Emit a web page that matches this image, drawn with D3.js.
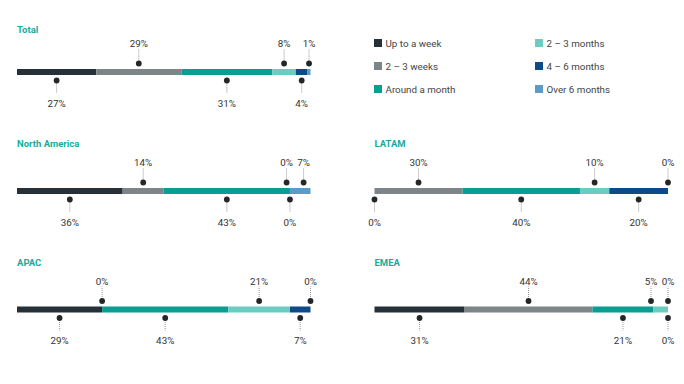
<!DOCTYPE html>
<html>
<head>
<meta charset="utf-8">
<script src="https://cdn.jsdelivr.net/npm/d3@7"></script>
<style>
  body { margin: 0; background: #fff; }
  svg { font-family: Roboto, "Noto Sans", sans-serif; }
</style>
</head>
<body>
<svg id="chart" width="684" height="384"></svg>
<script>
const categories = ["Up to a week", "2 – 3 weeks", "Around a month", "2 – 3 months", "4 – 6 months", "Over 6 months"];
const colors = ["#263038", "#7e8588", "#0a9e92", "#6bcdc2", "#0c4a8a", "#5c9bc8"];

const regions = ["Total", "North America", "LATAM", "APAC", "EMEA"];
const totalValues = [27, 29, 31, 8, 4, 1];
const northAmericaValues = [36, 14, 43, 0, 0, 7];
const latamValues = [0, 30, 40, 10, 20, 0];
const apacValues = [29, 0, 43, 21, 7, 0];
const emeaValues = [31, 44, 21, 5, 0, 0];
const regionValues = [totalValues, northAmericaValues, latamValues, apacValues, emeaValues];

const svg = d3.select("#chart");

// panel positions: column left edge, bar centre y
const panels = [
  { x: 17, y: 72 },
  { x: 17, y: 191 },
  { x: 374.5, y: 191 },
  { x: 17, y: 309.5 },
  { x: 374.5, y: 309.5 }
];
const barWidth = 293.5;
const barHeight = 6;
const minGap = 17;

function spread(items, lo, hi) {
  items.sort((a, b) => a.x - b.x);
  for (let pass = 0; pass < 5; pass++) {
    for (let i = 1; i < items.length; i++) {
      const a = items[i - 1], b = items[i];
      if (b.x - a.x < minGap) {
        const mid = (a.x + b.x) / 2;
        a.x = mid - minGap / 2;
        b.x = mid + minGap / 2;
      }
    }
    items.forEach(d => { d.x = Math.max(lo, Math.min(hi, d.x)); });
    for (let i = items.length - 2; i >= 0; i--) {
      if (items[i + 1].x - items[i].x < minGap) items[i].x = items[i + 1].x - minGap;
    }
    for (let i = 1; i < items.length; i++) {
      if (items[i].x - items[i - 1].x < minGap) items[i].x = items[i - 1].x + minGap;
    }
    items.forEach(d => { d.x = Math.max(lo, Math.min(hi, d.x)); });
  }
}

regions.forEach((name, r) => {
  const p = panels[r];
  const values = regionValues[r];
  const x = d3.scaleLinear().domain([0, d3.sum(values)]).range([p.x, p.x + barWidth]);
  const g = svg.append("g");

  g.append("text")
    .attr("x", p.x)
    .attr("y", p.y - (r === 0 ? 39.5 : 44))
    .attr("font-size", 9.5)
    .attr("font-weight", "bold")
    .attr("fill", "#1aaa9c")
    .text(name);

  let acc = 0;
  const segs = values.map((v, i) => {
    const s = { i, v, x0: acc, x1: acc + v };
    acc += v;
    return s;
  });

  g.selectAll("rect.seg")
    .data(segs)
    .enter().append("rect")
    .attr("class", "seg")
    .attr("x", d => x(d.x0))
    .attr("y", p.y - barHeight / 2)
    .attr("width", d => x(d.x1) - x(d.x0))
    .attr("height", barHeight)
    .attr("fill", d => colors[d.i]);

  const labels = segs.map(s => ({ v: s.v, up: s.i % 2 === 1, x: x((s.x0 + s.x1) / 2) }));
  spread(labels.filter(d => d.up), p.x, p.x + barWidth);
  spread(labels.filter(d => !d.up), p.x, p.x + barWidth);

  const lab = g.selectAll("g.lab")
    .data(labels)
    .enter().append("g")
    .attr("class", "lab")
    .attr("transform", d => `translate(${d.x},${p.y})`);

  lab.append("line")
    .attr("x1", 0).attr("x2", 0)
    .attr("y1", d => d.up ? -8.5 : 8.5)
    .attr("y2", d => d.up ? -23 : 21)
    .attr("stroke", "#8a8a8a")
    .attr("stroke-width", 0.9)
    .attr("stroke-dasharray", "1,1");

  lab.append("circle")
    .attr("cy", d => d.up ? -8.5 : 8.5)
    .attr("r", 2.9)
    .attr("fill", "#23272a");

  lab.append("text")
    .attr("y", d => d.up ? -25 : 34.5)
    .attr("text-anchor", "middle")
    .attr("font-size", 9.8)
    .attr("fill", "#333")
    .text(d => d.v + "%");
});

// legend
const legend = svg.append("g");
const leg = legend.selectAll("g")
  .data(categories)
  .enter().append("g")
  .attr("transform", (d, i) => `translate(${i < 3 ? 374 : 535},${39 + (i % 3) * 23})`);

leg.append("rect")
  .attr("width", 8).attr("height", 8)
  .attr("fill", (d, i) => colors[i]);

leg.append("text")
  .attr("x", 11.5)
  .attr("y", 7.5)
  .attr("font-size", 9.8)
  .attr("fill", "#444")
  .text(d => d);
</script>
</body>
</html>
